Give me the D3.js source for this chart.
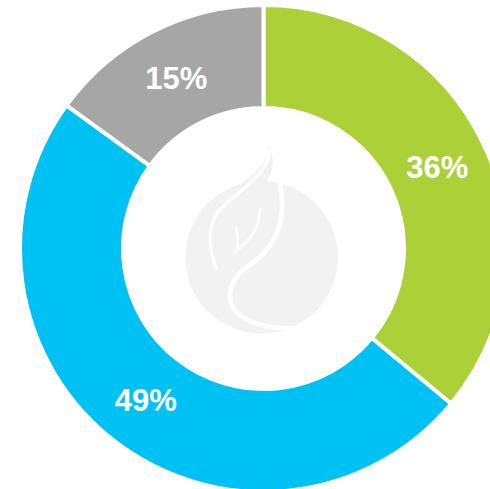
<!DOCTYPE html>
<html>
<head>
<meta charset="utf-8">
<script src="https://cdn.jsdelivr.net/npm/d3@7"></script>
<style>
  html, body { margin: 0; padding: 0; background: #fff; }
  svg { display: block; }
</style>
</head>
<body>
<svg id="chart" width="490" height="489"></svg>
<script>
// slices, clockwise from 12 o'clock
const categories = ['A', 'B', 'C'];
const values = [36, 49, 15];
const colors = ['#abd038', '#00c1f3', '#a6a6a6'];

const svg = d3.select('#chart');
const cx = 263.5, cy = 248.5;

const g = svg.append('g').attr('transform', 'translate(' + cx + ',' + cy + ')');

// faint logo in the hole
const logo = svg.append('g')
    .attr('transform', 'translate(170,130) scale(0.3333)');
logo.append('circle')
    .attr('cx', 275).attr('cy', 382).attr('r', 229)
    .attr('fill', '#f2f2f2');
logo.append('path')
    .attr('d', 'M58,340 C70,250 170,190 240,140 C280,110 296,80 295,45 C318,85 312,135 270,180 C240,210 190,240 160,280 Z')
    .attr('fill', '#f2f2f2');
// white gaps / leaf lines
logo.append('path')
    .attr('d', 'M300,60 C295,140 190,190 140,250 C110,300 118,360 140,420')
    .attr('fill', 'none').attr('stroke', '#fff').attr('stroke-width', 10);
logo.append('path')
    .attr('d', 'M330,160 C352,270 320,350 240,405 C180,440 165,500 195,540 C240,595 340,600 415,592')
    .attr('fill', 'none').attr('stroke', '#fff').attr('stroke-width', 14);
logo.append('path')
    .attr('d', 'M270,235 C270,300 230,340 190,370')
    .attr('fill', 'none').attr('stroke', '#fff').attr('stroke-width', 8);
logo.append('path')
    .attr('d', 'M198,290 C205,320 205,340 200,362')
    .attr('fill', 'none').attr('stroke', '#fff').attr('stroke-width', 7);

const data = categories.map((c, i) => ({ cat: c, value: values[i], color: colors[i] }));

const pie = d3.pie()
    .sort(null)
    .value(d => d.value);

const arc = d3.arc()
    .outerRadius(243.5)
    .innerRadius(140.5);

const slices = g.selectAll('.arc')
    .data(pie(data))
    .enter().append('g')
    .attr('class', 'arc');

slices.append('path')
    .attr('d', arc)
    .attr('fill', d => d.data.color)
    .attr('stroke', '#fff')
    .attr('stroke-width', 4);

slices.append('text')
    .attr('transform', d => 'translate(' + arc.centroid(d) + ')')
    .attr('dy', '0.36em')
    .attr('text-anchor', 'middle')
    .attr('fill', '#fff')
    .style('font-family', 'Arial, "Liberation Sans", sans-serif')
    .style('font-weight', 'bold')
    .style('font-size', '31px')
    .text(d => d.data.value + '%');
</script>
</body>
</html>
